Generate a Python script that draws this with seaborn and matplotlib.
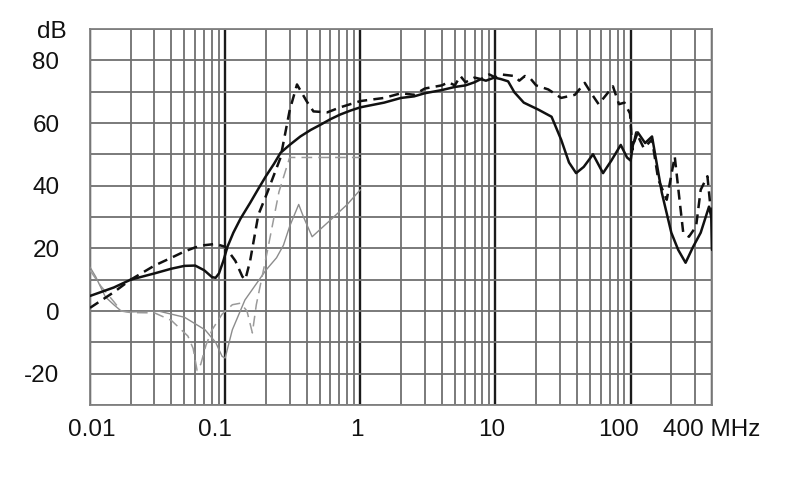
import numpy as np
import pandas as pd
import matplotlib
matplotlib.use("Agg")
import matplotlib.pyplot as plt
import matplotlib.transforms as mtransforms
from matplotlib.ticker import LogLocator, FixedLocator, NullFormatter
import seaborn as sns

# ---------------- data ----------------
solid_f = [0.01, 0.015, 0.02, 0.03, 0.04, 0.05, 0.06, 0.07, 0.08, 0.085, 0.09, 0.097, 0.104,
           0.115, 0.13, 0.153, 0.176, 0.2, 0.23, 0.257, 0.3, 0.36, 0.43, 0.51, 0.6, 0.71, 0.85,
           1.0, 1.5, 2, 2.5, 3, 4, 5, 6, 7, 7.8, 8.5, 9.8, 11, 12.4, 13.8,
           16.2, 20.7, 26, 30.6, 35, 39.5, 45, 52.7, 62.5, 72, 84.5, 94, 100, 104, 113, 128,
           144, 170, 200, 225, 255, 290, 330, 380, 395, 400]
solid_db = [4.8, 7.5, 10, 12, 13.5, 14.4, 14.5, 13, 10.8, 10.6, 12, 16, 20.5,
            25, 29.5, 34.5, 39, 43, 47, 50.5, 53, 55.7, 57.8, 59.5, 61.2, 62.7, 64,
            65, 66.5, 68, 68.5, 69.5, 70.5, 71.5, 72, 73, 74, 73.5, 74.5, 74, 73.3, 69.8,
            66.5, 64.3, 62, 54.7, 47.4, 44, 46, 50, 44, 48, 53, 49, 48, 53, 57, 53.6,
            55.7, 37.8, 25, 19.5, 15.4, 20.5, 25, 33.3, 30, 19.5]

dashed_f = [0.01, 0.015, 0.02, 0.03, 0.04, 0.05, 0.06, 0.07, 0.085, 0.1, 0.119, 0.134, 0.141,
            0.153, 0.176, 0.205, 0.257, 0.30, 0.34, 0.4, 0.45, 0.57, 0.71, 1.0, 1.5, 2, 2.5, 3,
            4, 4.5, 5, 5.5, 6, 7, 7.8, 9, 10, 11, 13.8, 15, 16.5, 18.3, 20, 24.6, 30.6, 38.7,
            45.8, 52, 58, 66, 74, 82, 90, 99, 103, 110, 125, 144, 160, 185, 212, 230, 245, 270,
            305, 330, 370, 390, 400]
dashed_db = [1, 6, 10, 14.5, 17, 19, 20.3, 21, 21.4, 20.5, 16, 11, 10,
             16, 30.7, 37.8, 49, 64, 72.3, 67, 63.7, 63.4, 65, 67, 68, 69.5, 69, 71,
             72, 73, 72, 75, 73, 74.5, 74, 75.5, 74.5, 75.5, 75, 73.5, 75, 74, 72, 70.7, 68, 69,
             72.8, 69, 66, 69, 71.7, 66, 66.5, 63, 51.5, 57, 52, 54.7, 42, 35.5, 49.3, 35.5, 25, 23.7,
             27, 38.7, 43, 33, 30]

gdash_f = [0.01, 0.012, 0.015, 0.017, 0.02, 0.03, 0.04, 0.053, 0.058, 0.062, 0.066, 0.072, 0.08,
           0.095, 0.113, 0.13, 0.145, 0.159, 0.17, 0.205, 0.25, 0.30, 0.32, 0.5, 0.7, 1.0]
gdash_db = [13, 8, 3, 0, -0.5, -0.6, -3, -8, -12, -19, -17, -11, -6,
            -1, 2, 2.5, 0, -7, 2, 19, 38, 49, 49, 49, 49, 49]

gsolid_f = [0.01, 0.011, 0.013, 0.015, 0.017, 0.02, 0.032, 0.05, 0.071, 0.085, 0.095, 0.1, 0.113,
            0.14, 0.2, 0.24, 0.27, 0.3, 0.35, 0.38, 0.44, 0.6, 0.8, 1.0]
gsolid_db = [14, 11, 4.5, 2, 0, -0.3, 0, -2, -6, -10, -14.5, -15, -6,
             3.5, 13, 17, 21, 27, 34, 30, 23.7, 29, 34, 38.7]

x_ticks = [0.01, 0.1, 1, 10, 100, 400]
x_labels = ["0.01", "0.1", "1", "10", "100", "400 MHz"]
y_ticks = [-20, 0, 20, 40, 60, 80]
y_labels = ["-20", "0", "20", "40", "60", "80"]

# ---------------- figure ----------------
sns.set_style("white")
plt.rcParams['font.family'] = ['Liberation Sans', 'DejaVu Sans']

fig = plt.figure(figsize=(7.9, 4.99), dpi=100)
ax = fig.add_axes([90 / 790, 1 - 405 / 499, (712 - 90) / 790, (405 - 29) / 499])

series = [
    (gsolid_f, gsolid_db, dict(color="#8c8c8c", lw=1.0, ls="-")),
    (gdash_f, gdash_db, dict(color="#9a9a9a", lw=1.1, ls=(0, (7, 4)))),
    (solid_f, solid_db, dict(color="#111111", lw=1.8, ls="-")),
    (dashed_f, dashed_db, dict(color="#111111", lw=1.8, ls=(0, (4, 2.5)))),
]
for f, db, st in series:
    df = pd.DataFrame({"f": f, "db": db})
    sns.lineplot(data=df, x="f", y="db", ax=ax, sort=False, estimator=None,
                 color=st["color"], linewidth=st["lw"], linestyle=st["ls"], zorder=3)

ax.set_xscale("log")
ax.set_xlim(0.01, 400)
ax.set_ylim(-30, 90)

ax.xaxis.set_major_locator(FixedLocator(x_ticks))
ax.set_xticklabels(x_labels)
ax.xaxis.set_minor_locator(LogLocator(base=10, subs=np.arange(2, 10), numticks=20))
ax.xaxis.set_minor_formatter(NullFormatter())
ax.yaxis.set_major_locator(FixedLocator(y_ticks))
ax.set_yticklabels(y_labels)
ax.yaxis.set_minor_locator(FixedLocator(np.arange(-30, 91, 10)))

ax.grid(which="minor", axis="both", color="#707070", lw=1.3, zorder=1)
ax.grid(which="major", axis="y", color="#707070", lw=1.3, zorder=1)
ax.grid(which="major", axis="x", color="#1a1a1a", lw=1.7, zorder=1)
ax.set_axisbelow(True)

for s in ax.spines.values():
    s.set_color("#808080")
    s.set_linewidth(1.3)

ax.tick_params(which="both", length=0)
ax.tick_params(axis="x", pad=10, labelsize=17.5, labelcolor="#111111")
ax.tick_params(axis="y", pad=22, labelsize=17.5, labelcolor="#111111")
ax.set_xlabel("")
ax.set_ylabel("")

# small horizontal offsets of x labels as in reference
offs = [2, -10, -3, -4, -12, 0]
for lab, dx in zip(ax.get_xticklabels(), offs):
    lab.set_transform(lab.get_transform() + mtransforms.ScaledTranslation(dx / 100, 0, fig.dpi_scale_trans))

fig.text(67 / 790, 1 - 32 / 499, "dB", ha="right", va="center", fontsize=17.5, color="#111111")

fig.savefig("out.png", dpi=100)
